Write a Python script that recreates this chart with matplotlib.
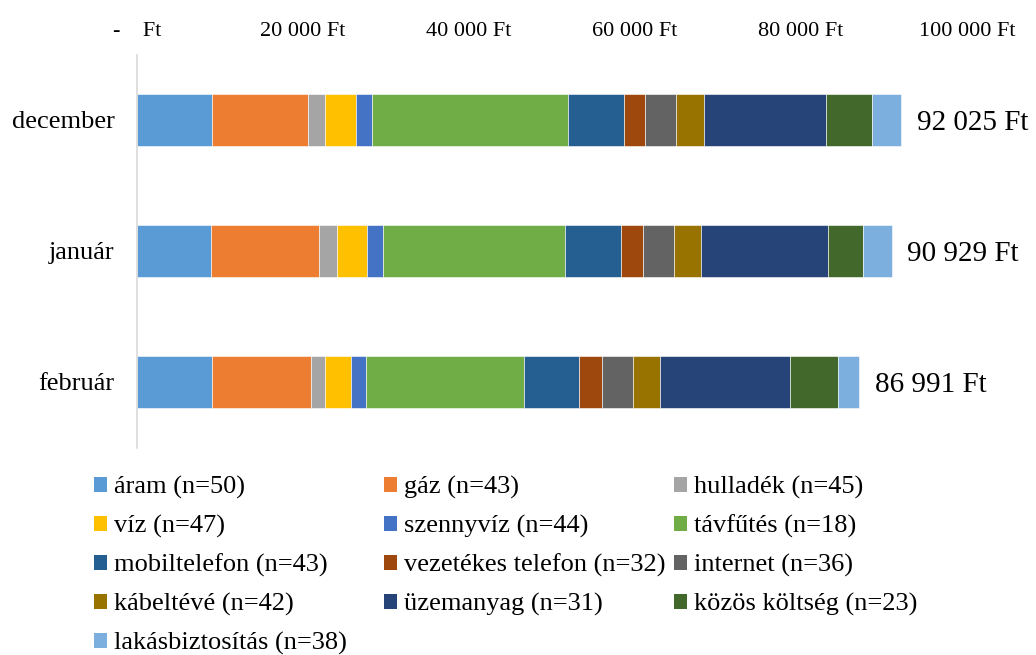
import numpy as np
import matplotlib.pyplot as plt
from matplotlib.patches import Patch

plt.rcParams['font.family'] = ['Liberation Serif', 'DejaVu Serif']

months = ['december', 'január', 'február']
totals = [92025, 90929, 86991]

categories = ['áram (n=50)', 'gáz (n=43)', 'hulladék (n=45)',
              'víz (n=47)', 'szennyvíz (n=44)', 'távfűtés (n=18)',
              'mobiltelefon (n=43)', 'vezetékes telefon (n=32)', 'internet (n=36)',
              'kábeltévé (n=42)', 'üzemanyag (n=31)', 'közös költség (n=23)',
              'lakásbiztosítás (n=38)']

# values per category: december, január, február (Ft)
aram = [9040, 8910, 9000]
gaz = [11570, 13010, 11930]
hulladek = [2050, 2130, 1770]
viz = [3700, 3610, 3050]
szennyviz = [1960, 1930, 1890]
tavfutes = [23580, 22010, 19030]
mobil = [6820, 6700, 6580]
vezetekes = [2490, 2650, 2770]
internet = [3730, 3730, 3730]
kabel = [3340, 3300, 3300]
uzemanyag = [14700, 15250, 15570]
kozos = [5610, 4180, 5780]
lakas = [3435, 3519, 2561]

series = [aram, gaz, hulladek, viz, szennyviz, tavfutes, mobil, vezetekes,
          internet, kabel, uzemanyag, kozos, lakas]

colors = ['#5B9BD5', '#ED7D31', '#A5A5A5', '#FFC000', '#4472C4', '#70AD47',
          '#255E91', '#9E480E', '#636363', '#997300', '#264478', '#43682B',
          '#7CAFDD']

fig = plt.figure(figsize=(10.36, 6.55), dpi=100)
ax = fig.add_axes([137 / 1036, 1 - 447.5 / 655, 830 / 1036, 393 / 655])

y = np.arange(len(months))
left = np.zeros(len(months))
for vals, col in zip(series, colors):
    ax.barh(y, vals, left=left, height=0.4, color=col,
            edgecolor='white', linewidth=0.4)
    left += np.array(vals)

# total labels at bar end
for yi, end, tot in zip(y, left, totals):
    txt = f"{tot:,.0f} Ft".replace(",", " ")
    ax.text(end + 1900, yi, txt, va='center_baseline', ha='left', fontsize=21)

ax.set_xlim(0, 100000)
ax.set_ylim(len(months) - 0.5, -0.5)
ax.set_yticks(y)
ax.set_yticklabels(months, fontsize=19)

ticks = np.arange(0, 100001, 20000)
ax.set_xticks(ticks)
ax.set_xticklabels(['-    Ft'] + [f"{t:,.0f} Ft".replace(",", " ") for t in ticks[1:]],
                   fontsize=16)
ax.xaxis.tick_top()
ax.tick_params(axis='x', length=0, pad=10)
ax.tick_params(axis='y', length=0, pad=16)

for s in ['top', 'right', 'bottom']:
    ax.spines[s].set_visible(False)
ax.spines['left'].set_color('#D9D9D9')
ax.spines['left'].set_linewidth(1.2)

# legend in three columns, filled row by row
col_x = [94 / 1036, 384 / 1036, 674 / 1036]
for c in range(3):
    idx = list(range(c, len(categories), 3))
    handles = [Patch(facecolor=colors[i], edgecolor='none') for i in idx]
    labels = [categories[i] for i in idx]
    fig.legend(handles, labels, loc='upper left',
               bbox_to_anchor=(col_x[c], 1 - 476 / 655),
               frameon=False, fontsize=19, handlelength=0.5,
               handleheight=0.5, handletextpad=0.25,
               labelspacing=0.6, borderpad=0, borderaxespad=0)

fig.savefig('out.png', dpi=100)
